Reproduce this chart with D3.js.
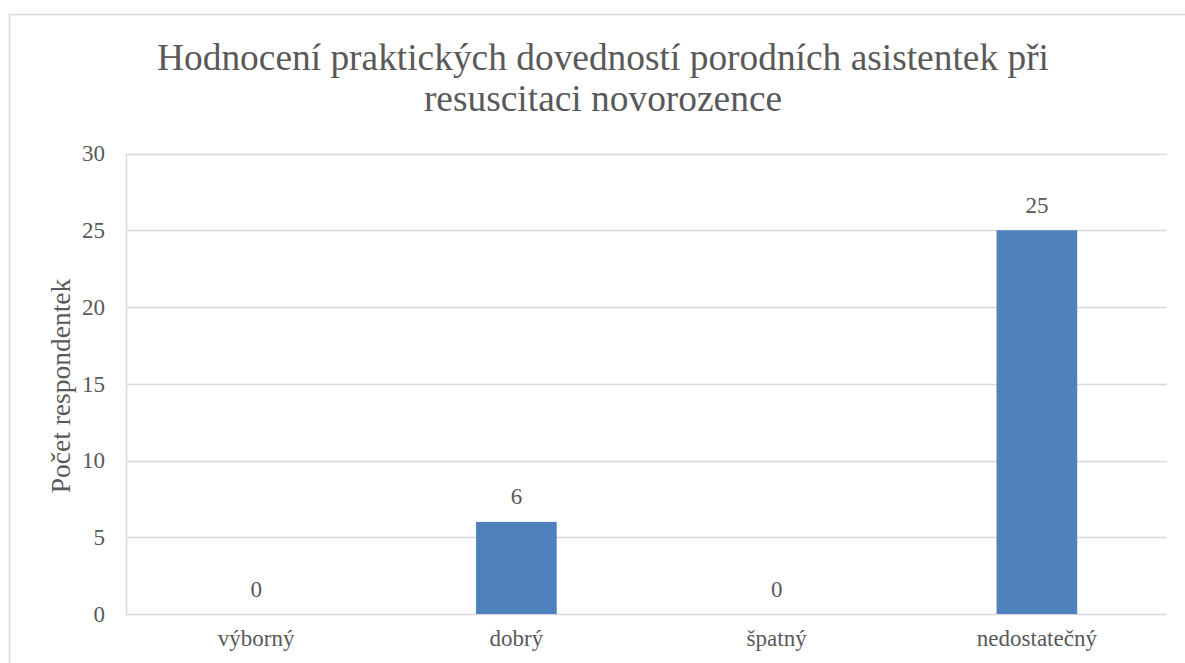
<!DOCTYPE html>
<html>
<head>
<meta charset="utf-8">
<script src="https://cdn.jsdelivr.net/npm/d3@7"></script>
<style>
  html, body { margin: 0; padding: 0; background: #fff; }
  svg { display: block; }
</style>
</head>
<body>
<svg id="chart" width="1185" height="663"></svg>
<script>
// Data
const categories = ["výborný", "dobrý", "špatný", "nedostatečný"];
const values = [0, 6, 0, 25];
const yTicks = [0, 5, 10, 15, 20, 25, 30];
const titleLines = ["Hodnocení praktických dovedností porodních asistentek při", "resuscitaci novorozence"];
const yAxisTitle = "Počet respondentek";

const FONT = "'Liberation Serif', 'Times New Roman', Tinos, 'DejaVu Serif', serif";
const INK = "#595959";

const svg = d3.select("#chart");

// Chart frame (extends past the visible area on the right and bottom)
svg.append("rect")
  .attr("x", 9.5).attr("y", 14.5)
  .attr("width", 1187).attr("height", 700)
  .attr("fill", "#fff")
  .attr("stroke", "#d9d9d9").attr("stroke-width", 1.5);

const plot = { left: 126, right: 1167, top: 153.5, bottom: 614 };

const x = d3.scaleBand()
  .domain(categories)
  .range([plot.left, plot.right])
  .paddingInner(0.69)
  .paddingOuter(0.345);

const y = d3.scaleLinear()
  .domain([0, 30])
  .range([plot.bottom, plot.top]);

// Gridlines
svg.append("g")
  .selectAll("line")
  .data(yTicks)
  .join("line")
  .attr("x1", plot.left).attr("x2", plot.right)
  .attr("y1", d => Math.round(y(d)) + 0.5).attr("y2", d => Math.round(y(d)) + 0.5)
  .attr("stroke", "#d9d9d9").attr("stroke-width", 1.5);

// Vertical axis line
svg.append("line")
  .attr("x1", plot.left + 0.5).attr("x2", plot.left + 0.5)
  .attr("y1", plot.top).attr("y2", plot.bottom)
  .attr("stroke", "#d9d9d9").attr("stroke-width", 1.5);

// Y tick labels
const yAxis = d3.axisLeft(y).tickValues(yTicks).tickSize(0).tickPadding(21);
const gy = svg.append("g").attr("transform", `translate(${plot.left},0)`).call(yAxis)
  .attr("font-family", FONT).attr("font-size", 23);
gy.select(".domain").remove();
gy.selectAll("text").attr("fill", INK);

// X category labels
const xAxis = d3.axisBottom(x).tickSize(0).tickPadding(16);
const gx = svg.append("g").attr("transform", `translate(0,${plot.bottom})`).call(xAxis)
  .attr("font-family", FONT).attr("font-size", 23);
gx.select(".domain").remove();
gx.selectAll("text").attr("fill", INK);

// Bars
const rows = categories.map((c, i) => ({ c, v: values[i] }));
svg.append("g")
  .selectAll("rect")
  .data(rows)
  .join("rect")
  .attr("x", d => x(d.c))
  .attr("y", d => y(d.v))
  .attr("width", x.bandwidth())
  .attr("height", d => y(0) - y(d.v))
  .attr("fill", "#4f81bd");

// Value labels
svg.append("g")
  .attr("font-family", FONT).attr("font-size", 23).attr("fill", INK)
  .selectAll("text")
  .data(rows)
  .join("text")
  .attr("x", d => x(d.c) + x.bandwidth() / 2)
  .attr("y", d => y(d.v) - 17.5)
  .attr("text-anchor", "middle")
  .text(d => d.v);

// Y axis title
svg.append("text")
  .attr("transform", `translate(70,386) rotate(-90)`)
  .attr("text-anchor", "middle")
  .attr("font-family", FONT).attr("font-size", 27.5).attr("fill", INK)
  .text(yAxisTitle);

// Chart title
svg.append("text")
  .attr("text-anchor", "middle")
  .attr("font-family", FONT).attr("font-size", 37.4).attr("fill", INK)
  .selectAll("tspan")
  .data(titleLines)
  .join("tspan")
  .attr("x", 603)
  .attr("y", (d, i) => 70 + i * 41)
  .text(d => d);
</script>
</body>
</html>
